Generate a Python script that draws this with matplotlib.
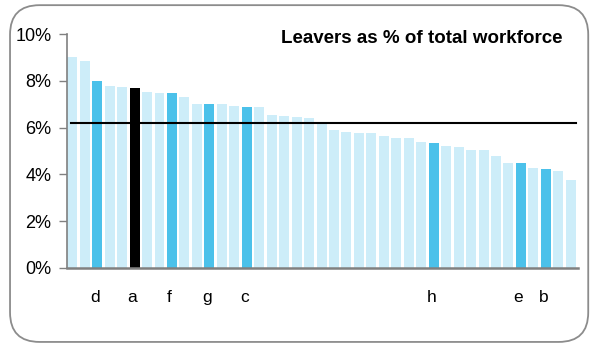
import numpy as np
import matplotlib
matplotlib.use('Agg')
import matplotlib.pyplot as plt
from matplotlib.patches import FancyBboxPatch

plt.rcParams['font.family'] = ['Liberation Sans', 'DejaVu Sans']

# leavers as % of workforce, sorted descending
values = [9.02, 8.84, 7.98, 7.77, 7.73, 7.68, 7.51, 7.47, 7.47, 7.30,
          7.00, 7.00, 7.00, 6.91, 6.87, 6.87, 6.53, 6.49, 6.45, 6.40,
          6.18, 5.89, 5.81, 5.77, 5.77, 5.64, 5.55, 5.55, 5.38, 5.34,
          5.21, 5.17, 5.04, 5.04, 4.79, 4.49, 4.49, 4.27, 4.23, 4.15, 3.77]
# highlighted bars: index -> label
highlight = {2: 'd', 5: 'a', 8: 'f', 11: 'g', 14: 'c', 29: 'h', 36: 'e', 38: 'b'}
selected = 5
average = 6.2
yticks = [0, 2, 4, 6, 8, 10]
title = 'Leavers as % of total workforce'

LIGHT = '#cdedf9'
BLUE = '#4bc1ea'

fig = plt.figure(figsize=(5.9, 3.44), dpi=100)
ax = fig.add_axes([0.113, 0.221, 0.866, 0.680])

x = np.arange(len(values))
colors = []
for i in range(len(values)):
    if i == selected:
        colors.append('black')
    elif i in highlight:
        colors.append(BLUE)
    else:
        colors.append(LIGHT)
ax.bar(x, values, width=0.8, color=colors, zorder=2)
ax.plot([-0.1, len(values) - 0.6], [average, average], color='black', lw=1.5, zorder=3)

ax.set_xlim(-0.45, len(values) - 0.45)
ax.set_ylim(0, 10)
ax.set_yticks(yticks)
ax.set_yticklabels([f'{t}%' for t in yticks], fontsize=13)
ticks = sorted(highlight)
ax.set_xticks([t - 0.2 for t in ticks])
ax.set_xticklabels([highlight[t] for t in ticks], fontsize=12.5)
ax.tick_params(axis='x', length=0, pad=16)
ax.tick_params(axis='y', length=6, width=1, color='#808080', pad=5)

for s in ['top', 'right']:
    ax.spines[s].set_visible(False)
ax.spines['left'].set_color('#808080')
ax.spines['left'].set_linewidth(1.2)
ax.spines['bottom'].set_color('#808080')
ax.spines['bottom'].set_linewidth(1.8)

ax.text(0.695, 0.983, title, transform=ax.transAxes, ha='center', va='center',
        fontsize=13.5, fontweight='bold')

frame = FancyBboxPatch((0.017, 0.006), 0.98, 0.979, boxstyle='round,pad=0,rounding_size=0.05',
                       transform=fig.transFigure, fill=False, edgecolor='#8c8c8c', lw=1.3,
                       mutation_aspect=590 / 344)
fig.patches.append(frame)

fig.savefig('out.png', dpi=100)
